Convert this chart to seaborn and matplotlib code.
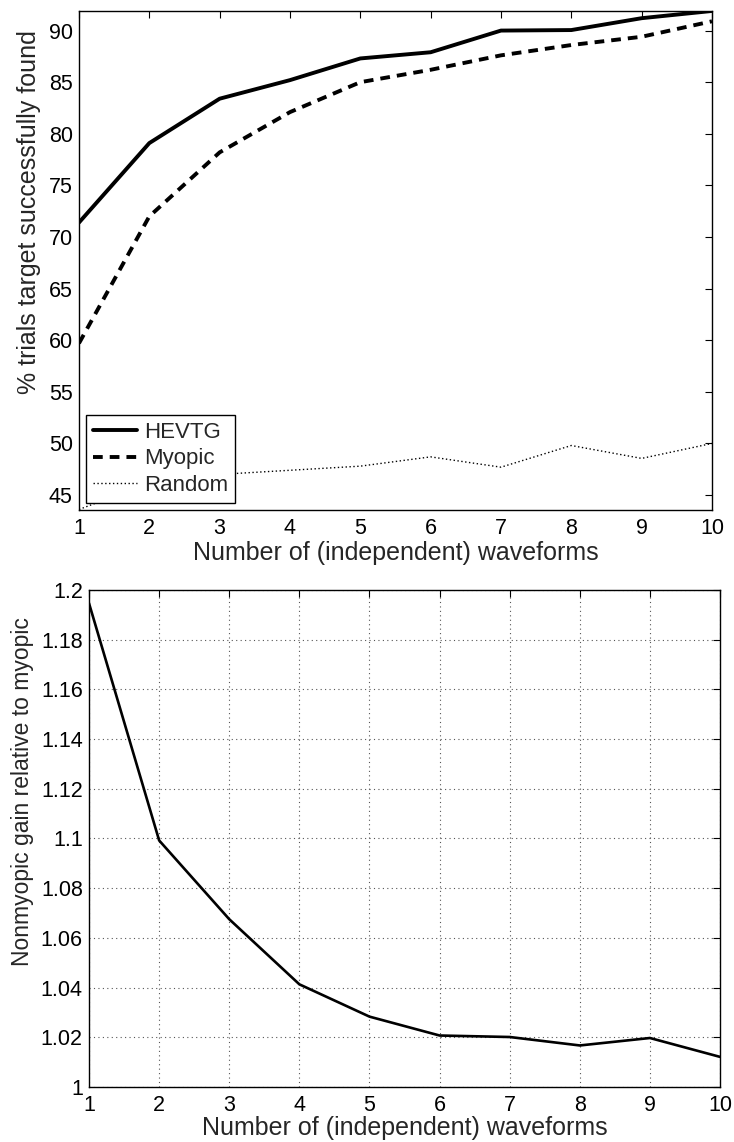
import numpy as np
import pandas as pd
import seaborn as sns
import matplotlib
matplotlib.use("Agg")
import matplotlib.pyplot as plt
from matplotlib.ticker import FuncFormatter

# ---- data ----
waveforms = [1, 2, 3, 4, 5, 6, 7, 8, 9, 10]
hevtg = [71.4, 79.1, 83.4, 85.2, 87.3, 87.9, 90.0, 90.05, 91.2, 91.9]
myopic = [59.7, 72.0, 78.2, 82.1, 85.0, 86.2, 87.6, 88.6, 89.4, 90.9]
random_ = [43.6, 46.2, 47.0, 47.4, 47.8, 48.7, 47.7, 49.8, 48.55, 50.0]
gain = [1.1946, 1.0992, 1.0675, 1.0413, 1.0283, 1.0207, 1.0201, 1.0167, 1.0197, 1.0121]

top_yticks = [45, 50, 55, 60, 65, 70, 75, 80, 85, 90]
bottom_yticks = [1.0, 1.02, 1.04, 1.06, 1.08, 1.1, 1.12, 1.14, 1.16, 1.18, 1.2]

sns.set_style("white")
plt.rcParams['font.family'] = ['Liberation Sans', 'DejaVu Sans']
plt.rcParams['font.size'] = 15

df = pd.DataFrame({
    "x": waveforms * 3,
    "y": hevtg + myopic + random_,
    "method": ["HEVTG"] * 10 + ["Myopic"] * 10 + ["Random"] * 10,
})
dfg = pd.DataFrame({"x": waveforms, "gain": gain})

fig = plt.figure(figsize=(7.34, 11.42), dpi=100)
ax1 = fig.add_axes([0.1076, 0.5534, 0.8624, 0.437])
ax2 = fig.add_axes([0.1213, 0.0482, 0.8597, 0.4352])

styles = {
    "HEVTG": dict(lw=2.8, ls="-"),
    "Myopic": dict(lw=2.8, ls=(0, (2.5, 1.8))),
    "Random": dict(lw=1.0, ls=(0, (1, 1.8))),
}
for m in ["HEVTG", "Myopic", "Random"]:
    sub = df[df.method == m]
    sns.lineplot(data=sub, x="x", y="y", ax=ax1, color="black",
                 label=m, linewidth=styles[m]["lw"], linestyle=styles[m]["ls"])

ax1.set_xlim(1, 10)
ax1.set_ylim(43.55, 91.9)
ax1.set_xticks(waveforms)
ax1.set_yticks(top_yticks)
ax1.set_xlabel("Number of (independent) waveforms", fontsize=18, labelpad=1)
ax1.set_ylabel("% trials target successfully found", fontsize=18)
ax1.yaxis.set_label_coords(-0.060, 0.597)
leg = ax1.legend(loc="lower left", frameon=True, fancybox=False, framealpha=1,
                 edgecolor="black", fontsize=16, handlelength=2.0,
                 handletextpad=0.3, borderpad=0.3, labelspacing=0.25,
                 borderaxespad=0.33)
leg.get_frame().set_linewidth(1.0)

sns.lineplot(data=dfg, x="x", y="gain", ax=ax2, color="black", linewidth=1.9)
ax2.set_xlim(1, 10)
ax2.set_ylim(1.0, 1.2)
ax2.set_xticks(waveforms)
ax2.set_yticks(bottom_yticks)
ax2.yaxis.set_major_formatter(FuncFormatter(lambda v, p: f"{v:g}"))
ax2.grid(True, linestyle=(0, (1, 3)), color="#555555", linewidth=0.8)
ax2.set_axisbelow(True)
ax2.set_xlabel("Number of (independent) waveforms", fontsize=18, labelpad=0)
ax2.set_ylabel("Nonmyopic gain relative to myopic", fontsize=16.5)
ax2.yaxis.set_label_coords(-0.087, 0.594)

for ax in (ax1, ax2):
    for s in ax.spines.values():
        s.set_visible(True)
        s.set_color("black")
        s.set_linewidth(1.0)
    ax.tick_params(direction="in", top=True, right=True, length=5, width=0.8,
                   labelsize=15.5, colors="black")
    ax.tick_params(axis="x", pad=6)
    ax.tick_params(axis="y", pad=4.5)

fig.savefig("out.png", dpi=100)
